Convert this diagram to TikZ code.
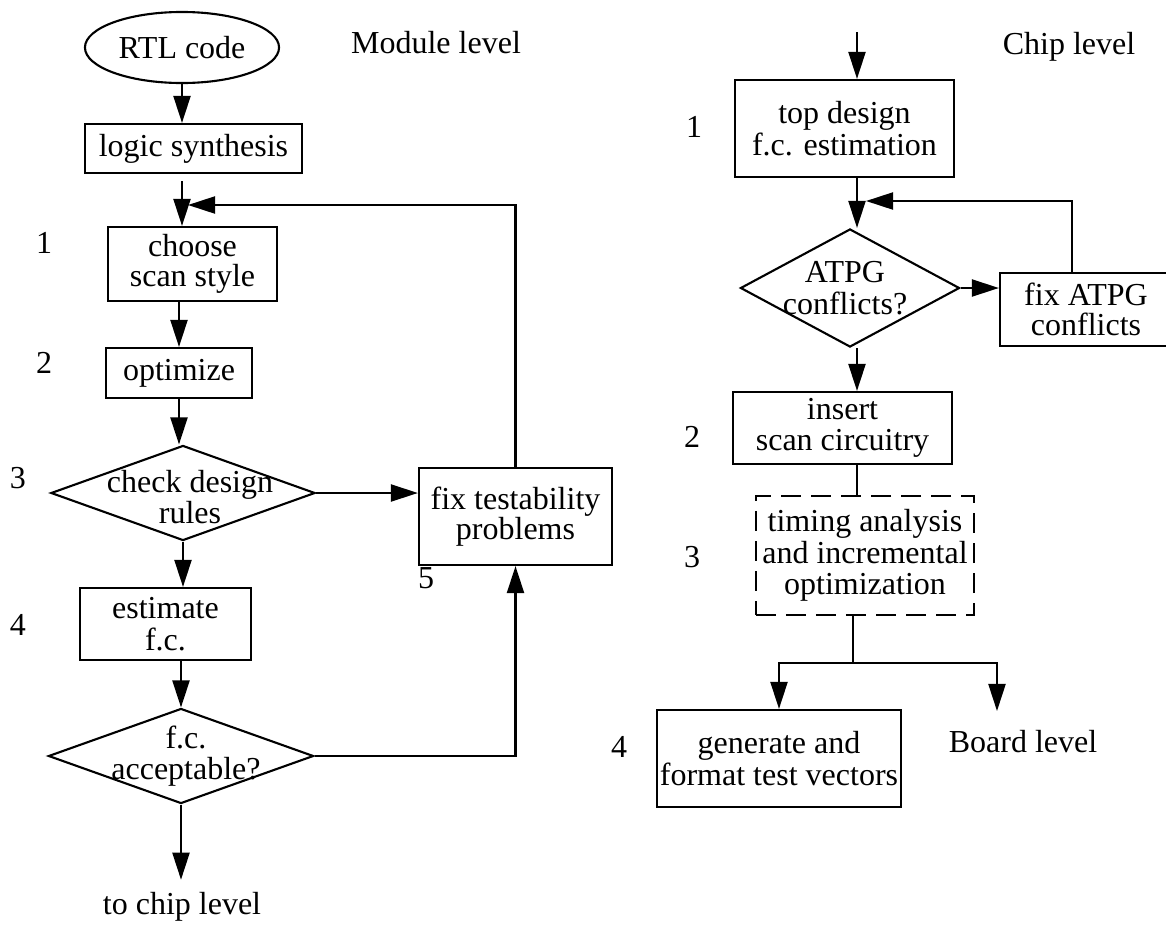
\documentclass[tikz,border=0pt]{standalone}
\usepackage{fontspec}
\setmainfont{Liberation Serif}
\usetikzlibrary{arrows.meta,shapes.geometric}

\tikzset{
  box/.style={draw, inner sep=0pt, align=center},
  dashbox/.style={box, dash pattern=on 0.2cm off 0.1cm},
  decision/.style={draw, diamond, inner sep=0pt},
  tight/.style={font=\fontsize{9.1pt}{8.4pt}\selectfont},
}

\begin{document}
\begin{tikzpicture}[x=0.01cm, y=-0.01cm, line width=0.6pt,
    >={Triangle[length=0.27cm, width=0.17cm]},
    font=\fontsize{9.1pt}{9pt}\selectfont]
  \useasboundingbox (0,0) rectangle (1166,930);

  % module level
  \node[ellipse, draw, minimum width=1.94cm, minimum height=0.71cm, inner sep=0pt] (rtl) at (182,47.5) {RTL code};
  \node (modlvl) at (436,43) {Module level};
  \node[box, minimum width=2.17cm, minimum height=0.49cm] (synth) at (193.5,148.5) {logic synthesis};
  \node[box, tight, minimum width=1.69cm, minimum height=0.74cm] (scanstyle) at (192.5,264) {choose\\scan style};
  \node[box, minimum width=1.46cm, minimum height=0.50cm] (optim) at (179,373) {optimize};
  \node[decision, minimum width=2.64cm, minimum height=0.95cm,
    label={[align=center, xshift=0.07cm, yshift=-0.04cm]center:check design\\rules}] (rules) at (183,493) {};
  \node[box, minimum width=1.71cm, minimum height=0.72cm] (estfc) at (165.5,624) {estimate\\f.c.};
  \node[decision, minimum width=2.65cm, minimum height=0.95cm,
    label={[align=center, xshift=0.05cm]center:f.c.\\acceptable?}] (fcok) at (181,756) {};
  \node (tochip) at (182,907) {to chip level};
  \node[box, tight, minimum width=1.93cm, minimum height=0.97cm] (fixtest) at (515.5,516.5) {fix testability\\problems};
  \coordinate (loopL) at (188,205);

  \node (mstep1) at (44,243) {1};
  \node (mstep2) at (44,363) {2};
  \node (mstep3) at (18,478) {3};
  \node (mstep4) at (18,625) {4};
  \node (mstep5) at (426,578) {5};

  \draw[->] (rtl.south) -- (rtl.south |- synth.north);
  \draw[->] ([yshift=-0.07cm]synth.south -| rtl) -- (scanstyle.north -| rtl);
  \draw[->] (scanstyle.south -| optim) -- (optim.north);
  \draw[->] (optim.south) -- (optim.south |- rules.north);
  \draw[->] (rules.south) -- (rules.south |- estfc.north);
  \draw[->] (estfc.south -| fcok) -- (fcok.north);
  \draw[->] (fcok.south) -- (fcok.south |- tochip.north);
  \draw[->] (rules.east) -- (rules.east -| fixtest.west);
  \draw[->] (fcok.east) -| (fixtest.south);
  % loop back
  \draw[->] (fixtest.north) |- (loopL);

  % chip level
  \node (chiplvl) at (1069,47) {Chip level};
  \coordinate (chipin) at (857,32);
  \node[box, minimum width=2.19cm, minimum height=0.97cm] (topfc) at (844.5,128.5) {top design\\f.c. estimation};
  \node[decision, minimum width=2.19cm, minimum height=1.18cm,
    label={[align=center, xshift=-0.05cm]center:ATPG\\conflicts?}] (atpg) at (850,288) {};
  \node[box, tight, minimum width=1.72cm, minimum height=0.73cm] (fixatpg) at (1086,309.5) {fix ATPG\\conflicts};
  \node[box, minimum width=2.19cm, minimum height=0.72cm] (insert) at (842.5,428) {insert\\scan circuitry};
  \node[dashbox, minimum width=2.18cm, minimum height=1.19cm] (timing) at (865,555.5) {timing analysis\\and incremental\\optimization};
  \coordinate (fork) at (853,663);
  \node[box, minimum width=2.44cm, minimum height=0.97cm] (vectors) at (779,758.5) {generate and\\format test vectors};
  \node (board) at (1023,742) {Board level};
  \coordinate (toboard) at (997,711);
  \coordinate (loopR) at (866,201);

  \node (cstep1) at (694,127) {1};
  \node (cstep2) at (692,437) {2};
  \node (cstep3) at (692,557) {3};
  \node (cstep4) at (619,747) {4};

  \draw[->] (chipin) -- (chipin |- topfc.north);
  \draw[->] (topfc.south -| chipin) -- (atpg.north -| chipin);
  \draw[->] (atpg.south -| chipin) -- (insert.north -| chipin);
  \draw[->] (atpg.east) -- (atpg.east -| fixatpg.west);
  % loop back
  \draw[->] ([xshift=-0.14cm]fixatpg.north) |- (loopR);
  \draw (insert.south -| chipin) -- (timing.north -| chipin);
  \draw (timing.south -| fork) -- (fork);
  \draw[->] (fork) -| (vectors.north);
  \draw[->] (fork) -| (toboard);
\end{tikzpicture}
\end{document}
